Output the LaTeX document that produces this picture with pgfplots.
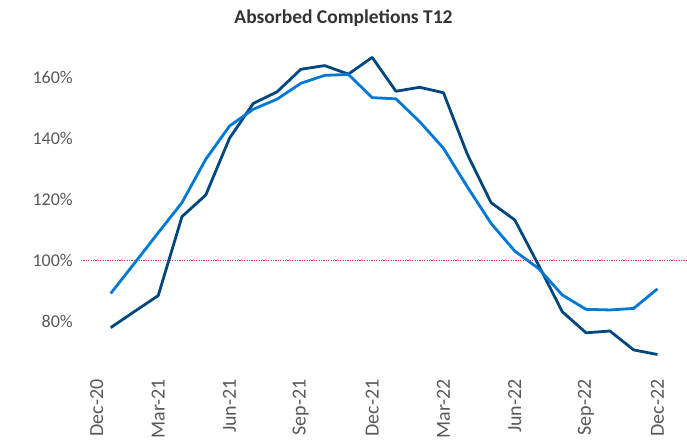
\documentclass[border=0pt]{standalone}
\usepackage{pgfplots}
\pgfplotsset{compat=1.18}
\usepackage{fontspec}
\setmainfont{Carlito}
\newfontfamily\xfont{Carlito}
\definecolor{darkblue}{RGB}{0,70,127}
\definecolor{lightblue}{RGB}{0,120,212}
\definecolor{ticktext}{RGB}{89,89,89}
\definecolor{titletext}{RGB}{51,51,51}
\definecolor{refred}{RGB}{240,50,50}
\pgfplotstableread{
m dark light
1 77.9 89.1
2 83.2 99.0
3 88.4 109.0
4 114.3 118.9
5 121.4 133.1
6 140.0 144.0
7 151.4 149.5
8 155.2 152.8
9 162.6 158.0
10 163.8 160.6
11 161.0 160.9
12 166.5 153.3
13 155.4 152.9
14 156.7 145.4
15 154.9 136.7
16 134.8 124.1
17 118.9 112.1
18 113.2 103.0
19 98.4 97.3
20 83.1 88.6
21 76.2 83.9
22 76.8 83.7
23 70.6 84.2
24 69.1 90.6
}\datatable
\begin{document}
\begin{tikzpicture}
\begin{axis}[
  at={(0pt,0pt)}, anchor=south west,
  scale only axis,
  width=606pt, height=320.3pt,
  xmin=-0.249, xmax=25.245,
  ymin=65, ymax=170,
  axis line style={draw=none},
  major tick length=0pt,
  xtick={0.41,3,6,9,12,15,18,21,24},
  xticklabels={Dec-20,Mar-21,Jun-21,Sep-21,Dec-21,Mar-22,Jun-22,Sep-22,Dec-22},
  ytick={80,100,120,140,160},
  yticklabels={80\%,100\%,120\%,140\%,160\%},
  x tick label style={font=\xfont\fontsize{20pt}{20pt}\selectfont, color=ticktext, rotate=90, anchor=east, inner sep=0pt},
  y tick label style={font=\fontsize{18pt}{18pt}\selectfont, color=ticktext, anchor=east, inner sep=0pt},
  xticklabel shift=12pt,
  yticklabel shift=8pt,
  clip=false,
]
\addplot[refred, line width=0.9pt, dash pattern=on 1.2pt off 1.2pt] coordinates {(-0.249,100) (25.245,100)};
\addplot[darkblue, line width=2.8pt, line join=round] table[x=m, y=dark] {\datatable};
\addplot[lightblue, line width=2.8pt, line join=round] table[x=m, y=light] {\datatable};
\end{axis}
\node[anchor=base, font=\bfseries\fontsize{19.5pt}{19.5pt}\selectfont, color=titletext, inner sep=0pt] at (262.5pt,343pt) {Absorbed Completions T12};
\pgfresetboundingbox
\useasboundingbox (-81pt,-76pt) rectangle (606pt,367pt);
\end{tikzpicture}
\end{document}
